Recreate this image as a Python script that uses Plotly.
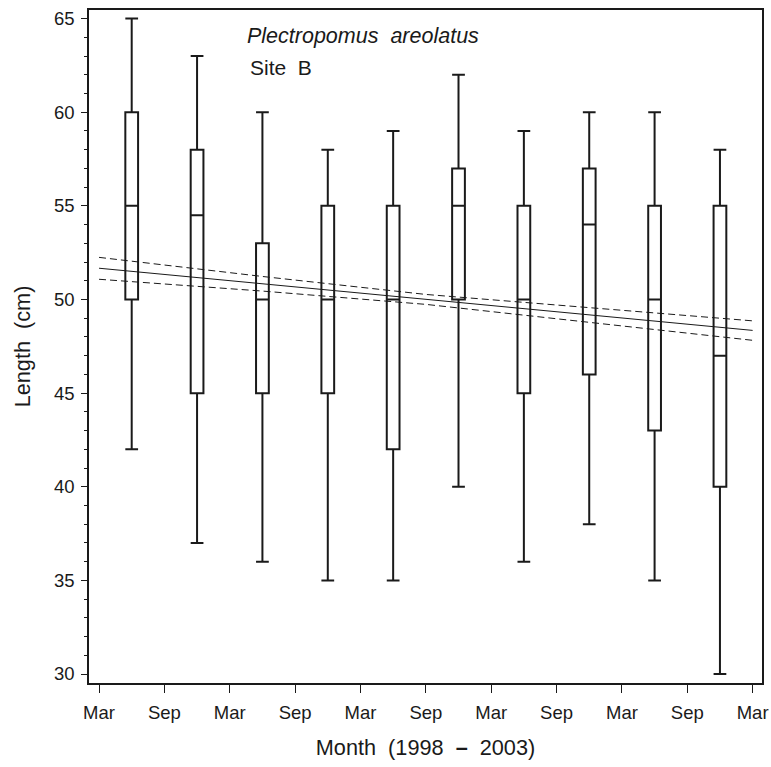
import plotly.graph_objects as go

# Sampling months, counted from March 1998 (0 = Mar 1998)
sample_month = [3, 9, 15, 21, 27, 33, 39, 45, 51, 57]

# Length distribution per sampling period (cm)
len_min = [42, 37, 36, 35, 35, 40, 36, 38, 35, 30]
len_q1 = [50, 45, 45, 45, 42, 50, 45, 46, 43, 40]
len_median = [55, 54.5, 50, 50, 50, 55, 50, 54, 50, 47]
len_q3 = [60, 58, 53, 55, 55, 57, 55, 57, 55, 55]
len_max = [65, 63, 60, 58, 59, 62, 59, 60, 60, 58]

# Fitted regression line and its 95% confidence limits
fit_month = [0, 60]
fit_value = [51.67, 48.35]
ci_month = [0, 15, 30, 45, 60]
ci_upper = [52.25, 51.23, 50.27, 49.56, 48.86]
ci_lower = [51.08, 50.45, 49.74, 48.80, 47.82]

# Axis ticks
x_tickvals = [0, 6, 12, 18, 24, 30, 36, 42, 48, 54, 60]
x_ticktext = ["Mar", "Sep", "Mar", "Sep", "Mar", "Sep", "Mar", "Sep", "Mar", "Sep", "Mar"]
y_tickvals = [30, 35, 40, 45, 50, 55, 60, 65]

INK = "#1a1a1a"
FONT = "Liberation Sans, Arial, Helvetica, sans-serif"
NB = "\u00a0"

fig = go.Figure()

fig.add_trace(go.Box(
    x=sample_month,
    lowerfence=len_min,
    q1=len_q1,
    median=len_median,
    q3=len_q3,
    upperfence=len_max,
    width=1.17,
    whiskerwidth=1,
    fillcolor="rgba(0,0,0,0)",
    line=dict(color=INK, width=2),
    boxpoints=False,
    hoverinfo="skip",
    showlegend=False,
))

fig.add_trace(go.Scatter(
    x=fit_month, y=fit_value, mode="lines",
    line=dict(color=INK, width=1),
    hoverinfo="skip", showlegend=False,
))
for ci in (ci_upper, ci_lower):
    fig.add_trace(go.Scatter(
        x=ci_month, y=ci, mode="lines",
        line=dict(color=INK, width=1, dash="7px,4px"),
        hoverinfo="skip", showlegend=False,
    ))

fig.add_annotation(
    x=0.232, y=0.982, xref="paper", yref="paper",
    xanchor="left", yanchor="top", showarrow=False, align="left",
    text=f"<i>Plectropomus{NB}{NB}areolatus</i>",
    font=dict(family=FONT, size=21.5, color=INK),
)
fig.add_annotation(
    x=0.236, y=0.934, xref="paper", yref="paper",
    xanchor="left", yanchor="top", showarrow=False, align="left",
    text=f"Site{NB}{NB}B",
    font=dict(family=FONT, size=21, color=INK),
)

fig.update_layout(
    width=771, height=767,
    margin=dict(l=89, r=9, t=10, b=84),
    paper_bgcolor="white", plot_bgcolor="white",
    font=dict(family=FONT, color=INK),
)

fig.update_xaxes(
    range=[-0.92, 60.86],
    tickmode="array", tickvals=x_tickvals, ticktext=x_ticktext,
    ticks="outside", ticklen=8, tickwidth=1, tickcolor=INK,
    tickfont=dict(family=FONT, size=18.5, color=INK),
    ticklabelstandoff=4,
    showline=True, linecolor=INK, linewidth=1.5, mirror=True,
    showgrid=False, zeroline=False, automargin=False,
    title=dict(text=f"Month{NB}{NB}(1998{NB}{NB}<b>–</b>{NB}{NB}2003)",
               font=dict(family=FONT, size=21.7, color=INK), standoff=18),
)

fig.update_yaxes(
    range=[29.52, 65.46],
    tickmode="array", tickvals=y_tickvals,
    ticks="outside", ticklen=6, tickwidth=1, tickcolor=INK,
    tickfont=dict(family=FONT, size=18.5, color=INK),
    ticklabelstandoff=3,
    minor=dict(dtick=1, ticks="outside", ticklen=3, tickwidth=1, tickcolor=INK),
    showline=True, linecolor=INK, linewidth=1.5, mirror=True,
    showgrid=False, zeroline=False, automargin=False,
    title=dict(text=f"Length{NB}{NB}(cm)",
               font=dict(family=FONT, size=21.7, color=INK), standoff=17),
)

fig.write_html("out.html")
